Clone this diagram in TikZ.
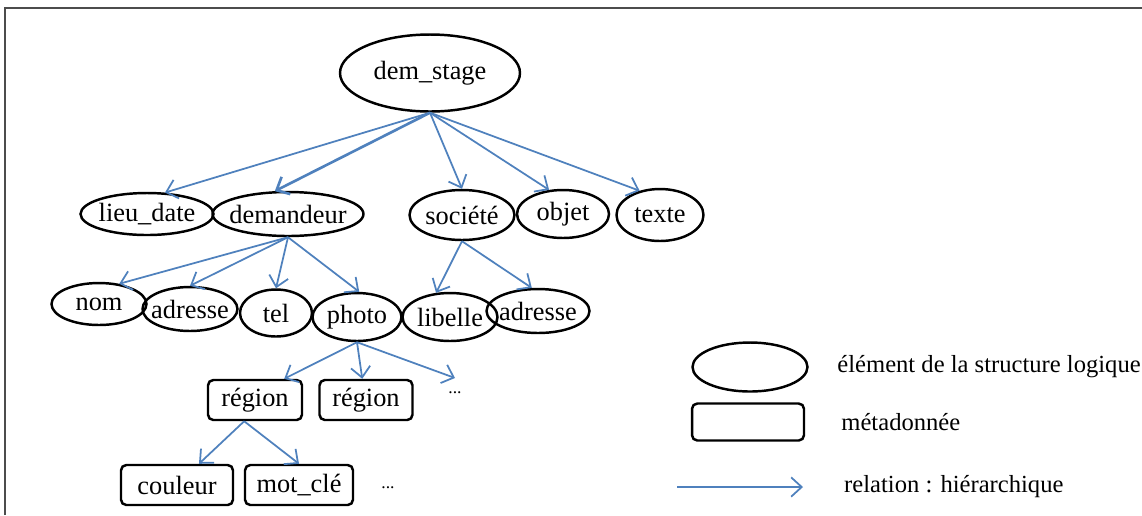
\documentclass[tikz,border=0pt]{standalone}
\usepackage{fontspec}
\setmainfont{Liberation Serif}
\usepackage{tikz}
\usetikzlibrary{shapes.geometric,arrows.meta,positioning}
\definecolor{relblue}{HTML}{4F81BD}

\begin{document}
\begin{tikzpicture}[x=0.02cm,y=-0.02cm,
  every node/.style={font=\fontsize{15}{18}\selectfont},
  >={Straight Barb[length=6pt,width=11pt]},
  elem/.style={ellipse,draw,line width=1.4pt,inner xsep=-4pt,inner ysep=0pt},
  meta/.style={draw,line width=1.4pt,rounded corners=3pt,minimum height=0.8cm},
  rel/.style={->,relblue,line width=1pt},
  legtxt/.style={font=\fontsize{14}{17}\selectfont},
  dots/.style={font=\fontsize{10}{12}\selectfont}]
\useasboundingbox (0,0) rectangle (1142,515);
% cadre
\draw[line width=1.3pt,black!70] (5,515) -- (5,8) -- (1142,8);
% structure logique
\node[elem,minimum width=3.6cm,minimum height=1.54cm](dem) at (430,73){dem\_stage};
\node[elem,minimum width=2.66cm,minimum height=0.84cm](lieu) at (147,214){lieu\_date};
\node[elem,minimum width=3.02cm,minimum height=0.88cm](deman) at (288,214){demandeur};
\node[elem,minimum width=2.1cm,minimum height=1cm](soc) at (462,215){société};
\node[elem,minimum width=1.84cm,minimum height=0.96cm](objet) at (563,214){objet};
\node[elem,minimum width=1.74cm,minimum height=1.04cm](texte) at (660,215){texte};
\node[elem,minimum width=1.9cm,minimum height=0.84cm](nom) at (99,304){nom};
\node[elem,minimum width=1.9cm,minimum height=0.88cm](adr) at (190,309){adresse};
\node[elem,minimum width=1.44cm,minimum height=0.94cm](tel) at (276,313){tel};
\node[elem,minimum width=1.78cm,minimum height=0.96cm](photo) at (357,317){photo};
\node[elem,minimum width=1.9cm,minimum height=0.96cm](lib) at (450,317){libelle};
\node[elem,minimum width=2.06cm,minimum height=0.88cm](adrs) at (538,311){adresse};
% metadonnees
\node[meta,minimum width=1.88cm](reg) at (255,400){région};
\node[meta,minimum width=1.86cm](regb) at (366,400){région};
\node[dots](more) at (455,393){...};
\coordinate(moreend) at (455,378);
\node[meta,minimum width=2.24cm](coul) at (177,485){couleur};
\node[meta,minimum width=2.16cm](mot) at (299,485){mot\_clé};
\node[dots](moreb) at (388,488){...};
% relations
\draw[rel](dem.south)--(lieu.50);
\draw[rel,line width=1.5pt](dem.south)--(deman.120);
\draw[rel](dem.south)--(soc.north);
\draw[rel](dem.south)--(objet.120);
\draw[rel](dem.south)--(texte.130);
\draw[rel](deman.south)--(nom.45);
\draw[rel](deman.south)--(adr.north);
\draw[rel](deman.south)--(tel.north);
\draw[rel](deman.south)--(photo.85);
\draw[rel](soc.south)--(lib.120);
\draw[rel](soc.south)--(adrs.105);
\draw[rel](photo.south)--(reg.36);
\draw[rel](photo.south)--(regb.100);
\draw[rel](photo.south)--(moreend);
\draw[rel](reg.-117)--(coul.44);
\draw[rel](reg.-117)--(mot.north);
% legende
\node[elem,minimum width=2.3cm,minimum height=0.98cm](legel) at (750,367){};
\node[legtxt,right=0.45cm of legel](legeltxt){élément de la structure logique};
\node[meta,minimum width=2.24cm,minimum height=0.74cm](legmeta) at (748,422){};
\node[legtxt,right=0.6cm of legmeta](legmetatxt){métadonnée};
\coordinate(lega) at (677,487);
\coordinate(legb) at (803,487);
\draw[rel](lega)--(legb);
\node[legtxt,right=0.7cm of legb](legreltxt){relation : hiérarchique};
\end{tikzpicture}
\end{document}
